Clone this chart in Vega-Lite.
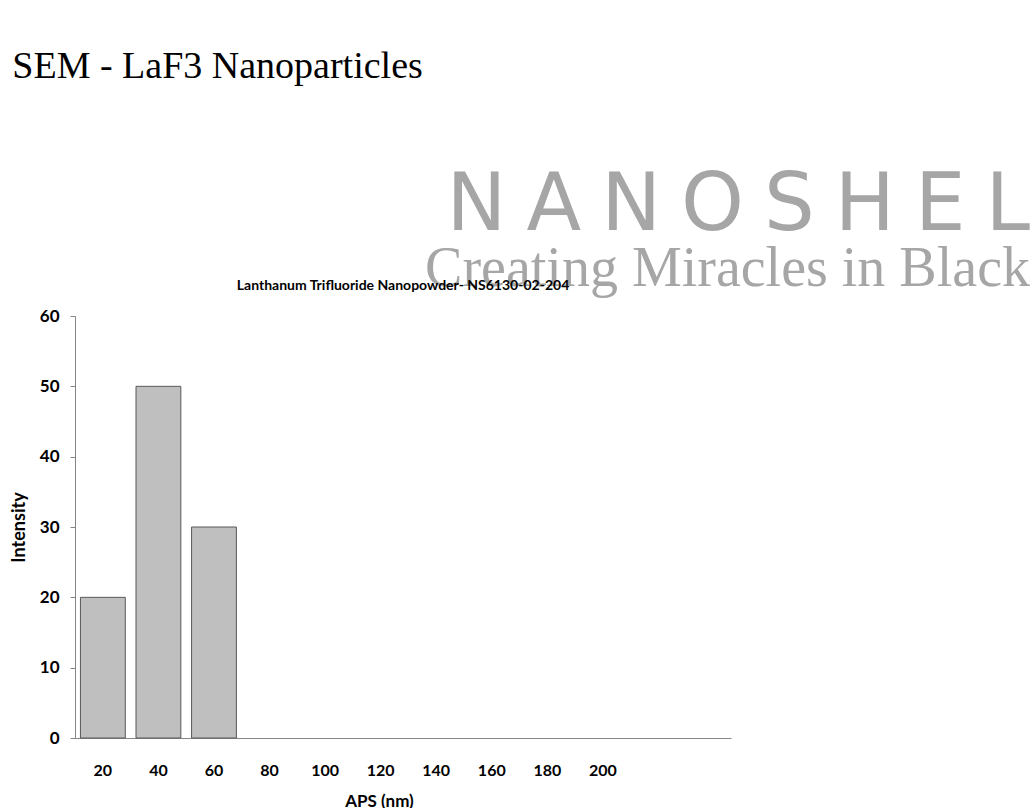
{
  "$schema": "https://vega.github.io/schema/vega-lite/v6.json",
  "background": "white",
  "padding": {"left": 10, "top": 48, "right": 0, "bottom": 0},
  "title": {
    "text": "SEM - LaF3 Nanoparticles",
    "anchor": "start",
    "frame": "bounds",
    "font": "Liberation Serif",
    "fontSize": 38,
    "fontWeight": "normal",
    "color": "#000000",
    "offset": 80,
    "dx": 2
  },
  "bounds": "flush",
  "spacing": 0,
  "vconcat": [
    {
      "width": 955,
      "height": 18,
      "data": {"values": []},
      "mark": {"type": "text"},
      "encoding": {},
      "title": {
        "text": "N\u2005A\u2005N\u2005O\u2005S\u2005H\u2005E\u2005L",
        "subtitle": "Creating Miracles in Black",
        "anchor": "end",
        "frame": "group",
        "font": "DejaVu Sans",
        "fontWeight": "normal",
        "fontSize": 80,
        "color": "#a6a6a6",
        "subtitleFont": "Liberation Serif",
        "subtitleFontSize": 56,
        "subtitleColor": "#a6a6a6",
        "subtitlePadding": -5,
        "offset": 0
      }
    },
    {
      "width": 656,
      "height": 422,
      "title": {
        "text": "Lanthanum Trifluoride Nanopowder- NS6130-02-204",
        "font": "Lato",
        "fontSize": 14,
        "fontWeight": "bold",
        "color": "#000000",
        "anchor": "middle",
        "offset": 14
      },
      "data": {
        "values": [
          {"aps": "20", "intensity": 20},
          {"aps": "40", "intensity": 50},
          {"aps": "60", "intensity": 30}
        ]
      },
      "mark": {"type": "bar", "fill": "#bfbfbf", "stroke": "#595959", "strokeWidth": 1},
      "encoding": {
        "x": {
          "field": "aps",
          "type": "ordinal",
          "sort": null,
          "scale": {
            "domain": ["20", "40", "60", "80", "100", "120", "140", "160", "180", "200"],
            "paddingInner": 0.193,
            "paddingOuter": 1.115,
            "align": 0.049
          },
          "axis": {
            "title": "APS (nm)",
            "labelAngle": 0,
            "ticks": false,
            "tickSize": 0,
            "labelPadding": 24,
            "labelFont": "Lato",
            "labelFontSize": 16,
            "labelFontWeight": "bold",
            "labelColor": "#000000",
            "domainColor": "#868686",
            "titleFont": "Lato",
            "titleFontSize": 17,
            "titleFontWeight": "bold",
            "titleColor": "#000000",
            "titlePadding": 15,
            "titleX": 304
          }
        },
        "y": {
          "field": "intensity",
          "type": "quantitative",
          "scale": {"domain": [0, 60]},
          "axis": {
            "title": "Intensity",
            "values": [0, 10, 20, 30, 40, 50, 60],
            "grid": false,
            "tickSize": 5,
            "tickColor": "#868686",
            "domainColor": "#868686",
            "labelPadding": 11,
            "labelFont": "Lato",
            "labelFontSize": 17,
            "labelFontWeight": "bold",
            "labelColor": "#000000",
            "titleFont": "Lato",
            "titleFontSize": 18,
            "titleFontWeight": "bold",
            "titleColor": "#000000",
            "titlePadding": 11
          }
        }
      }
    }
  ],
  "config": {"view": {"stroke": null}}
}
